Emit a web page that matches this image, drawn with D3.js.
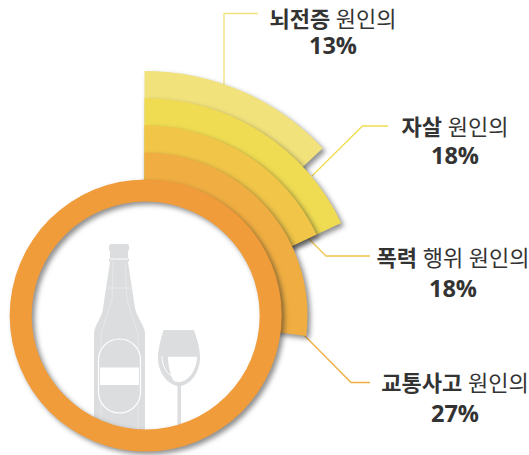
<!DOCTYPE html>
<html>
<head>
<meta charset="utf-8">
<script src="https://cdn.jsdelivr.net/npm/d3@7"></script>
<style>
  html, body { margin: 0; padding: 0; background: #fff; }
  svg { display: block; }
  text { font-family: "Open Sans", "Noto Sans CJK KR", sans-serif; fill: #333; font-size: 22px; text-anchor: middle; }
  .strong { font-weight: 700; }
  .pct { font-weight: 700; font-size: 23.5px; }
</style>
</head>
<body>
<svg width="529" height="455"></svg>
<script>
document.addEventListener("DOMContentLoaded", function () {

  var causes = ["뇌전증", "자살", "폭력 행위", "교통사고"];
  var shares = [13, 18, 18, 27];
  var boldParts = ["뇌전증", "자살", "폭력", "교통사고"];
  var plainParts = [" 원인의", " 원인의", " 행위 원인의", " 원인의"];
  var colors = ["#f1e27c", "#f0dc52", "#f0c548", "#f0ae42"];

  var cx = 144.5, cy = 315.5;
  var ringCx = 145.7;

  var svg = d3.select("svg");
  var defs = svg.append("defs");

  var shadow = defs.append("filter").attr("id", "shadow")
    .attr("color-interpolation-filters", "sRGB")
    .attr("x", "-20%").attr("y", "-20%").attr("width", "150%").attr("height", "150%");
  shadow.append("feDropShadow")
    .attr("dx", 3).attr("dy", 3).attr("stdDeviation", 2.5)
    .attr("flood-color", "#222").attr("flood-opacity", 0.5);

  defs.append("clipPath").attr("id", "hole")
    .append("circle").attr("cx", ringCx).attr("cy", cy).attr("r", 115);

  var angle = d3.scaleLinear().domain([0, 100]).range([0, 2 * Math.PI]);
  var radius = d3.scalePoint().domain(causes).range([244.5, 163]);
  var color = d3.scaleOrdinal().domain(causes).range(colors);

  var arc = d3.arc()
    .innerRadius(0)
    .outerRadius(function (d) { return radius(d.cause); })
    .startAngle(0)
    .endAngle(function (d) { return angle(d.share); });

  var rows = causes.map(function (c, i) {
    return { cause: c, share: shares[i], bold: boldParts[i], plain: plainParts[i] };
  });

  // leader lines sit under the sectors
  var leaders = [
    [[224, 90], [224, 13.5], [258, 13.5]],
    [[312, 176], [362.5, 126], [388, 126]],
    [[307, 237], [326, 256], [370, 256]],
    [[304, 335], [351, 382.5], [370, 382.5]]
  ];
  var line = d3.line();
  svg.append("g").selectAll("path").data(rows).join("path")
    .attr("d", function (d, i) { return line(leaders[i]); })
    .attr("fill", "none")
    .attr("stroke", function (d) { return color(d.cause); })
    .attr("stroke-width", 1.3);

  svg.append("g").attr("transform", "translate(" + cx + "," + cy + ")")
    .selectAll("path").data(rows).join("path")
    .attr("d", arc)
    .attr("fill", function (d) { return color(d.cause); })
    .attr("filter", "url(#shadow)");

  svg.append("circle").attr("cx", ringCx).attr("cy", cy).attr("r", 120).attr("fill", "#fff");

  drawBottle();

  var ring = d3.arc().innerRadius(114).outerRadius(136).startAngle(0).endAngle(2 * Math.PI);
  svg.append("path")
    .attr("transform", "translate(" + ringCx + "," + cy + ")")
    .attr("d", ring())
    .attr("fill", "#f09c3b")
    .attr("filter", "url(#shadow)");

  // labels: x, first baseline, second baseline
  var labelPos = [[333, 27, 54], [455, 135, 164], [453, 266, 296.5], [455, 391, 421.5]];
  var labels = svg.append("g").selectAll("g").data(rows).join("g")
    .attr("transform", function (d, i) { return "translate(" + labelPos[i][0] + ",0)"; });

  var first = labels.append("text").attr("y", function (d, i) { return labelPos[i][1]; });
  first.append("tspan").attr("class", "strong").text(function (d) { return d.bold; });
  first.append("tspan").text(function (d) { return d.plain; });

  labels.append("text").attr("class", "pct").attr("y", function (d, i) { return labelPos[i][2]; })
    .text(function (d) { return d.share + "%"; });

  function drawBottle() {
    var g = svg.append("g").attr("clip-path", "url(#hole)");
    var grey = "#dcddde";

    g.append("path").attr("fill", grey)
      .attr("d", "M112,244 H127 Q129,244 129,246 V250 L128,251 V258 L129,259 V261 L128,262 " +
        "L135,308 C136,316 145,326 145,333 V455 H94 V333 C94,326 103,316 103,308 L110,262 L109,261 V259 L110,258 V251 L109,250 V246 Q109,244 112,244 Z");
    g.append("path").attr("fill", "#fff").attr("opacity", 0.9)
      .attr("d", "M110,258.5 H128 V259.5 H110 Z");
    g.append("path").attr("fill", "none").attr("stroke", "#eceded").attr("stroke-width", 0.7)
      .attr("d", "M106,288 H133 M113,262 L112,300 L101,334 V455 M125,262 L127,300 L138,334 V455");
    g.append("rect").attr("x", 98.5).attr("y", 339).attr("width", 42).attr("height", 74).attr("rx", 21)
      .attr("fill", grey).attr("stroke", "#fff").attr("stroke-width", 1.2);
    g.append("rect").attr("x", 100).attr("y", 367.5).attr("width", 39).attr("height", 17.5).attr("fill", "#fff");

    // glass
    g.append("path").attr("fill", grey)
      .attr("d", "M163.5,330 H194 C198,342 200,350 200,358 C200,372 191,384 181,386 V440 H177.5 V386 C167,384 158,372 158,358 C158,350 160,342 163.5,330 Z");
    g.append("path").attr("fill", "#fff")
      .attr("d", "M168,356.7 H197 C197,370 188,382 179,382 C176,382 173,381 172,378 C169,370 168,362 168,356.7 Z");
    g.append("path").attr("fill", "none").attr("stroke", "#fff").attr("stroke-width", 1)
      .attr("d", "M162,356 C162,366 167,374 172,376");
  }

});
</script>
</body>
</html>
